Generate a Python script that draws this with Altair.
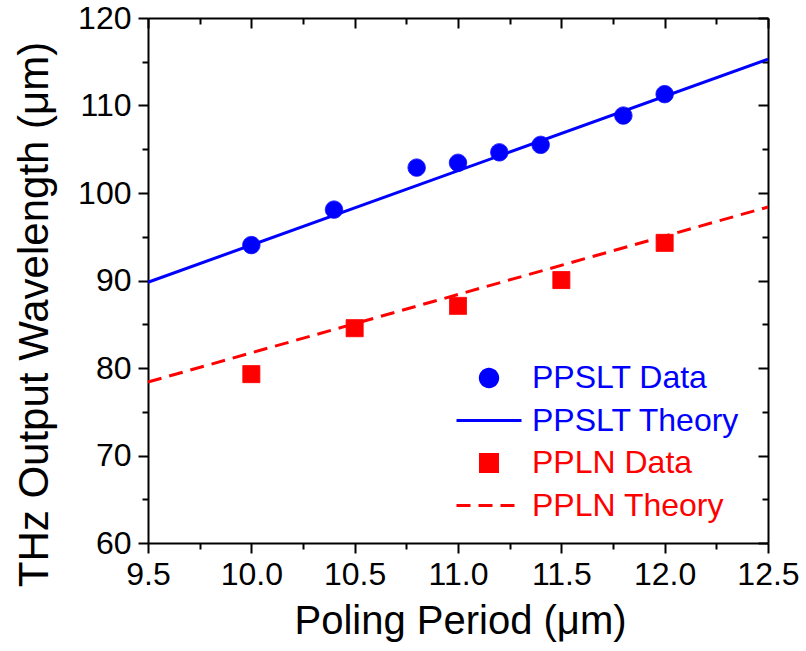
import altair as alt
import pandas as pd

# ---- data ----
ppslt_x = [10.0, 10.4, 10.8, 11.0, 11.2, 11.4, 11.8, 12.0]
ppslt_y = [94.05, 98.1, 102.9, 103.45, 104.65, 105.5, 108.85, 111.3]
ppln_x = [10.0, 10.5, 11.0, 11.5, 12.0]
ppln_y = [79.3, 84.55, 87.1, 90.05, 94.3]
ppslt_theory_x = [9.5, 12.5]
ppslt_theory_y = [89.8, 115.3]
ppln_theory_x = [9.5, 12.5]
ppln_theory_y = [78.4, 98.4]

series_names = ["PPSLT Data", "PPSLT Theory", "PPLN Data", "PPLN Theory"]
series_colors = ["#0000ff", "#0000ff", "#ff0000", "#ff0000"]
series_shapes = ["circle", "stroke", "square", "stroke"]
series_sizes = [300, 4225, 290, 4225]
series_dashes = [[1, 0], [1, 0], [1, 0], [14, 8]]

x_ticks = [9.5 + 0.25 * i for i in range(13)]
y_ticks = [60 + 5 * i for i in range(13)]

FONT = "Liberation Sans"

pts = pd.DataFrame({
    "x": ppslt_x + ppln_x,
    "y": ppslt_y + ppln_y,
    "series": ["PPSLT Data"] * len(ppslt_x) + ["PPLN Data"] * len(ppln_x),
})
th1 = pd.DataFrame({"x": ppslt_theory_x, "y": ppslt_theory_y})
th2 = pd.DataFrame({"x": ppln_theory_x, "y": ppln_theory_y})

xscale = alt.Scale(domain=[9.5, 12.5], nice=False, zero=False)
yscale = alt.Scale(domain=[60, 120], nice=False, zero=False)

x_major = "abs(datum.value*2 - round(datum.value*2)) < 0.001"
y_major = "datum.value % 10 == 0"

x_bottom = alt.Axis(
    orient="bottom", values=x_ticks, format=".1f",
    labelExpr=f"{x_major} ? format(datum.value, '.1f') : ''",
    tickSize=alt.ExprRef(f"{x_major} ? 10 : 6"),
    domainColor="black", domainWidth=2, tickColor="black", tickWidth=2,
    grid=False, labelFont=FONT, labelFontSize=32, labelColor="black",
    labelPadding=6, labelFlush=False, labelOverlap=False,
    title="Poling Period (μm)", titleFont=FONT, titleFontSize=40,
    titleFontWeight="normal", titleColor="black",
    titleX=312, titleY=90, titleBaseline="alphabetic", titleAlign="center",
)
y_left = alt.Axis(
    orient="left", values=y_ticks,
    labelExpr=f"{y_major} ? datum.label : ''",
    tickSize=alt.ExprRef(f"{y_major} ? 10 : 6"),
    domainColor="black", domainWidth=2, tickColor="black", tickWidth=2,
    grid=False, labelFont=FONT, labelFontSize=32, labelColor="black",
    labelPadding=7, labelFlush=False, labelOverlap=False,
    title="THz Output Wavelength (μm)", titleFont=FONT, titleFontSize=42,
    titleFontWeight="normal", titleColor="black",
    titleX=-101, titleY=296, titleAngle=-90, titleBaseline="alphabetic",
    titleAlign="center",
)
x_top = alt.Axis(
    orient="top", values=x_ticks, labels=False, title=None,
    tickSize=alt.ExprRef(f"{x_major} ? -10 : -6"),
    domainColor="black", domainWidth=2, tickColor="black", tickWidth=2,
    grid=False,
)
y_right = alt.Axis(
    orient="right", values=y_ticks, labels=False, title=None,
    tickSize=alt.ExprRef(f"{y_major} ? -10 : -6"),
    domainColor="black", domainWidth=2, tickColor="black", tickWidth=2,
    grid=False,
)

legend = alt.Legend(
    title=None, orient="none", legendX=307, legendY=345,
    labelFont=FONT, labelFontSize=32,
    labelColor=alt.ExprRef("indexof(datum.label, 'PPLN') >= 0 ? '#ff0000' : '#0000ff'"),
    symbolStrokeWidth=3, clipHeight=30, rowPadding=10.5, labelOffset=9,
    padding=0, labelLimit=400,
)

sel = alt.Scale(domain=series_names, range=series_colors)

points = alt.Chart(pts).mark_point(filled=True, opacity=1, strokeWidth=1).encode(
    x=alt.X("x:Q", scale=xscale, axis=x_bottom),
    y=alt.Y("y:Q", scale=yscale, axis=y_left),
    color=alt.Color("series:N", scale=sel, legend=legend),
    stroke=alt.Stroke("series:N", scale=sel, legend=legend),
    shape=alt.Shape("series:N", scale=alt.Scale(domain=series_names, range=series_shapes), legend=legend),
    size=alt.Size("series:N", scale=alt.Scale(type="ordinal", domain=series_names, range=series_sizes), legend=legend),
    strokeDash=alt.StrokeDash("series:N", scale=alt.Scale(domain=series_names, range=series_dashes), legend=legend),
)

line1 = alt.Chart(th1).mark_line(color="#0000ff", strokeWidth=3).encode(
    x=alt.X("x:Q", scale=xscale, axis=x_top),
    y=alt.Y("y:Q", scale=yscale, axis=y_right),
)
line2 = alt.Chart(th2).mark_line(color="#ff0000", strokeWidth=3, strokeDash=[14, 8]).encode(
    x=alt.X("x:Q", scale=xscale, axis=None),
    y=alt.Y("y:Q", scale=yscale, axis=None),
)

chart = alt.layer(line1, line2, points).resolve_axis(
    x="independent", y="independent"
).properties(
    width=620, height=525,
    autosize=alt.AutoSizeParams(type="none"),
    padding={"left": 148, "top": 18, "right": 38, "bottom": 108},
    background="white",
).configure_view(stroke=None)

chart.save("out.html", embed_options={"renderer": "svg", "actions": False})
